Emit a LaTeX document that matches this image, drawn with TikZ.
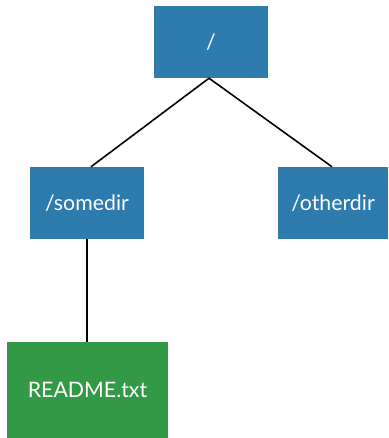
\documentclass[tikz,border=0pt]{standalone}
\usepackage{fontspec}
\setmainfont{Lato}
\definecolor{dirblue}{HTML}{2E7BAE}
\definecolor{filegreen}{HTML}{339946}
\begin{document}
\begin{tikzpicture}[x=1pt,y=-1pt,
  box/.style={draw=none,inner sep=0pt,text=white,font=\fontsize{21.3}{25}\selectfont},
  link/.style={line width=1.6pt,black}]
\useasboundingbox (0,0) rectangle (388,438);
\node[box,fill=dirblue,minimum width=114pt,minimum height=72pt] (root) at (211,42) {/};
\node[box,fill=dirblue,minimum width=114pt,minimum height=72pt] (some) at (87,203) {/somedir};
\node[box,fill=dirblue,minimum width=110pt,minimum height=72pt] (other) at (333,203) {/otherdir};
\node[box,fill=filegreen,minimum width=161pt,minimum height=96pt] (readme) at (87.5,390) {README.txt};
\draw[link] ([xshift=-2pt]root.south) -- ([xshift=4pt]some.north);
\draw[link] ([xshift=-2pt]root.south) -- ([xshift=-1pt]other.north);
\draw[link] (some.south) -- (readme.north -| some.south);
\end{tikzpicture}
\end{document}
